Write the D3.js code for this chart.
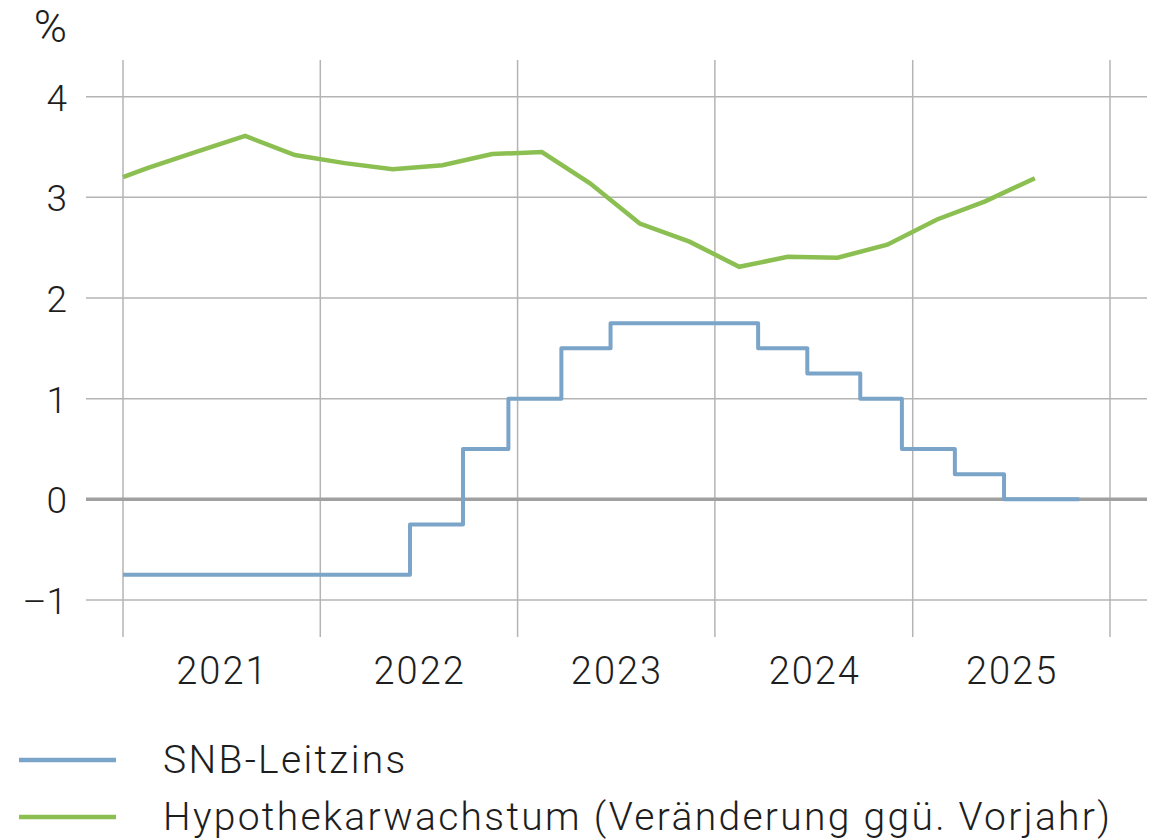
<!DOCTYPE html>
<html>
<head>
<meta charset="utf-8">
<script src="https://cdn.jsdelivr.net/npm/d3@7"></script>
<style>
  body { margin: 0; background: #fff; }
  text { font-family: Roboto, "Liberation Sans", sans-serif; font-weight: 300; fill: #1e1e1e; }
</style>
</head>
<body>
<script>
var years = ["2021", "2022", "2023", "2024", "2025"];
var yTicks = [-1, 0, 1, 2, 3, 4];

// SNB policy rate, value valid from each date on
var rateDates = ["2021-01-01", "2022-06-16", "2022-09-22", "2022-12-15", "2023-03-23", "2023-06-22",
    "2024-03-21", "2024-06-20", "2024-09-26", "2024-12-12", "2025-03-20", "2025-06-19", "2025-11-05"];
var rateValues = [-0.75, -0.25, 0.5, 1.0, 1.5, 1.75, 1.5, 1.25, 1.0, 0.5, 0.25, 0, 0];

// mortgage growth yoy, quarterly
var mortDates = ["2021-01-01", "2021-02-15", "2021-05-15", "2021-08-15", "2021-11-15",
    "2022-02-15", "2022-05-15", "2022-08-15", "2022-11-15",
    "2023-02-15", "2023-05-15", "2023-08-15", "2023-11-15",
    "2024-02-15", "2024-05-15", "2024-08-15", "2024-11-15",
    "2025-02-15", "2025-05-15", "2025-08-15"];
var mortValues = [3.20, 3.29, 3.45, 3.61, 3.42,
    3.34, 3.28, 3.32, 3.43,
    3.45, 3.14, 2.74, 2.56,
    2.31, 2.41, 2.40, 2.53,
    2.78, 2.96, 3.19];

var seriesNames = ["SNB-Leitzins", "Hypothekarwachstum (Veränderung ggü. Vorjahr)"];

var blue = "#7ba4c9", green = "#8cbf52";
var parse = d3.timeParse("%Y-%m-%d");

var rate = rateDates.map(function(d, i) { return {date: parse(d), value: rateValues[i]}; });
var mort = mortDates.map(function(d, i) { return {date: parse(d), value: mortValues[i]}; });

var svg = d3.select("body").append("svg")
    .attr("width", 1162).attr("height", 839);

var x = d3.scaleTime()
    .domain([new Date(2021, 0, 1), new Date(2026, 0, 1)])
    .range([123, 1110]);
var y = d3.scaleLinear().domain([-1, 4]).range([600, 96.7]);

// vertical grid at year boundaries
svg.append("g").selectAll("line").data(x.ticks(d3.timeYear))
    .enter().append("line")
    .attr("x1", function(d) { return x(d); }).attr("x2", function(d) { return x(d); })
    .attr("y1", 60).attr("y2", 637)
    .attr("stroke", "#b4b4b4").attr("stroke-width", 1.5);

// horizontal grid
svg.append("g").selectAll("line").data(yTicks)
    .enter().append("line")
    .attr("x1", 86).attr("x2", 1147)
    .attr("y1", function(d) { return y(d); }).attr("y2", function(d) { return y(d); })
    .attr("stroke", function(d) { return d === 0 ? "#a0a0a0" : "#b4b4b4"; })
    .attr("stroke-width", function(d) { return d === 0 ? 3.5 : 1.5; });

// y labels
var yAxis = svg.append("g").attr("transform", "translate(67,0)")
    .call(d3.axisLeft(y).tickValues(yTicks).tickSize(0).tickPadding(0)
        .tickFormat(function(d) { return d < 0 ? "\u2013" + Math.abs(d) : d; }));
yAxis.select(".domain").remove();
yAxis.attr("font-family", null);
yAxis.selectAll("text").attr("font-size", 37)
    .attr("dy", "0.36em").style("fill", "#1e1e1e");

svg.append("text").attr("x", 67).attr("y", 42).attr("text-anchor", "end")
    .attr("font-size", 45).text("%");

// year labels, centred in the year
svg.append("g").selectAll("text").data(years)
    .enter().append("text")
    .attr("x", function(d) { return x(new Date(+d, 6, 2)) + 1; })
    .attr("y", 684)
    .attr("text-anchor", "middle").attr("font-size", 38)
    .attr("letter-spacing", 2)
    .text(function(d) { return d; });

// lines
svg.append("path").datum(rate)
    .attr("fill", "none").attr("stroke", blue).attr("stroke-width", 4)
    .attr("stroke-linejoin", "round")
    .attr("d", d3.line().curve(d3.curveStepAfter)
        .x(function(d) { return x(d.date); }).y(function(d) { return y(d.value); }));

svg.append("path").datum(mort)
    .attr("fill", "none").attr("stroke", green).attr("stroke-width", 4.5)
    .attr("d", d3.line()
        .x(function(d) { return x(d.date); }).y(function(d) { return y(d.value); }));

// legend
var legend = svg.append("g").selectAll("g").data(seriesNames)
    .enter().append("g")
    .attr("transform", function(d, i) { return "translate(0," + (760 + i * 57) + ")"; });
legend.append("line").attr("x1", 19).attr("x2", 116)
    .attr("stroke", function(d, i) { return i === 0 ? blue : green; })
    .attr("stroke-width", 4.5);
legend.append("text").attr("x", 163).attr("y", 13).attr("font-size", 39)
    .attr("letter-spacing", 2.3)
    .text(function(d) { return d; });
</script>
</body>
</html>
